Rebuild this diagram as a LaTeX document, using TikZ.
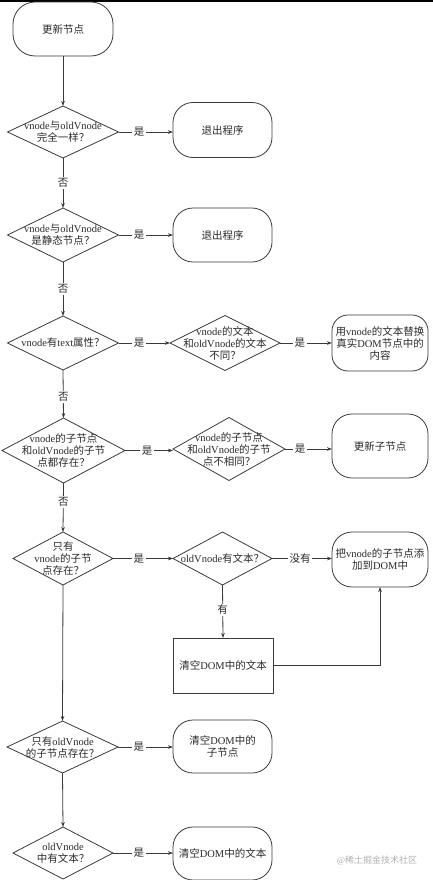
\documentclass[tikz,border=0pt]{standalone}
\usepackage{fontspec}
\setmainfont{Liberation Serif}
\newfontfamily\cjk{Noto Sans CJK SC}
\XeTeXinterchartokenstate=1
\newXeTeXintercharclass\cjkclass
\makeatletter
\count@="3000
\loop
  \XeTeXcharclass\count@=\cjkclass
  \advance\count@ by 1
\ifnum\count@<"3040 \repeat
\count@="4E00
\loop
  \XeTeXcharclass\count@=\cjkclass
  \advance\count@ by 1
\ifnum\count@<"A000 \repeat
\count@="FF00
\loop
  \XeTeXcharclass\count@=\cjkclass
  \advance\count@ by 1
\ifnum\count@<"FFF0 \repeat
\makeatother
\XeTeXinterchartoks 0 \cjkclass = {\cjk}
\XeTeXinterchartoks 4095 \cjkclass = {\cjk}
\XeTeXinterchartoks \cjkclass 0 = {\rmfamily}
\usetikzlibrary{arrows.meta}
\definecolor{ln}{HTML}{3A3A3A}
\definecolor{txt}{HTML}{2A2A2A}
\definecolor{wm}{HTML}{B0B0B0}
\tikzset{
  base/.style={font=\fontsize{10.5}{12}\selectfont, align=center, text=txt, inner sep=0pt, outer sep=0pt},
  dia/.style={base},
  term/.style={base, draw=ln, line width=0.8pt, rounded corners=#1},
  term/.default=20pt,
  boxnode/.style={base, draw=ln, line width=0.8pt},
  arr/.style={draw=ln, line width=0.8pt, -{Stealth[length=5pt,width=3.6pt]}},
  lbl/.style={base, fill=white, inner sep=1.5pt},
  wmark/.style={font=\fontsize{9}{11}\selectfont, text=wm, inner sep=0pt}
}
\begin{document}
\begin{tikzpicture}[x=1pt,y=-1pt]
\useasboundingbox (0,0) rectangle (433,880);
\fill[black] (0,0) rectangle (433,2.5);

% nodes
\node[term=22pt, minimum width=100pt, minimum height=54pt] (start) at (63,29) {更新节点};

\node[dia, minimum width=111pt, minimum height=52pt] (d1) at (63,132) {vnode与oldVnode\\完全一样？};
\node[term, minimum width=99pt, minimum height=55pt] (e1) at (222.5,130) {退出程序};

\node[dia, minimum width=111pt, minimum height=54pt] (d2) at (63,235) {vnode与oldVnode\\是静态节点？};
\node[term, minimum width=99pt, minimum height=54pt] (e2) at (222.5,235) {退出程序};

\node[dia, minimum width=111pt, minimum height=54pt] (d3) at (63,343) {vnode有text属性？};
\node[dia, minimum width=110pt, minimum height=55pt] (d3b) at (225,343) {vnode的文本\\和oldVnode的文本\\不同？};
\node[term=16pt, minimum width=96pt, minimum height=56pt] (b3c) at (380,343) {用vnode的文本替换\\真实DOM节点中的\\内容};

\node[dia, minimum width=123pt, minimum height=65pt] (d4) at (63.5,450.5) {vnode的子节点\\和oldVnode的子节\\点都存在？};
\node[dia, minimum width=112pt, minimum height=63pt] (d4b) at (229,449) {vnode的子节点\\和oldVnode的子节\\点不相同？};
\node[term, minimum width=96pt, minimum height=64pt] (b4c) at (380,446) {更新子节点};

\node[dia, minimum width=100pt, minimum height=53pt] (d5) at (63,558.5) {只有\\vnode的子节\\点存在？};
\node[dia, minimum width=99pt, minimum height=53pt] (d5b) at (222.5,558.5) {oldVnode有文本？};
\node[term, minimum width=96pt, minimum height=55pt] (b5c) at (380,559.5) {把vnode的子节点添\\加到DOM中};
\node[boxnode, minimum width=100pt, minimum height=55pt] (r5) at (223,665.5) {清空DOM中的文本};

\node[dia, minimum width=111pt, minimum height=52pt] (d6) at (62.5,747) {只有oldVnode\\的子节点存在？};
\node[term, minimum width=99pt, minimum height=53pt] (b6) at (222.5,746.5) {清空DOM中的\\子节点};

\node[dia, minimum width=100pt, minimum height=52pt] (d7) at (63,853) {oldVnode\\中有文本？};
\node[term, minimum width=99pt, minimum height=53pt] (b7) at (222.5,853.5) {清空DOM中的文本};

\node[wmark] (wm) at (377,861) {@稀土掘金技术社区};

% diamond outlines
\foreach \n in {d1,d2,d3,d3b,d4,d4b,d5,d5b,d6,d7}
  \draw[draw=ln, line width=0.8pt] (\n.west) -- (\n.north) -- (\n.east) -- (\n.south) -- cycle;

% vertical flow
\draw[arr] (start.south) -- (d1.north);
\draw[arr] (d1.south) -- node[lbl, pos=0.5] {否} (d2.north);
\draw[arr] (d2.south) -- node[lbl, pos=0.5] {否} (d3.north);
\draw[arr] (d3.south) -- node[lbl, pos=0.56] {否} (d4.north);
\draw[arr] (d4.south) -- node[lbl, pos=0.39] {否} (d5.north);
\draw[arr] (d5.south) -- (d6.north);
\draw[arr] (d6.south) -- (d7.north);

% horizontal branches
\draw[arr] (d1.east) -- node[lbl, pos=0.38] {是} (d1.east -| e1.west);
\draw[arr] (d2.east) -- node[lbl, pos=0.38] {是} (d2.east -| e2.west);
\draw[arr] (d3.east) -- node[lbl, pos=0.4] {是} (d3b.west);
\draw[arr] (d3b.east) -- node[lbl, pos=0.38] {是} (d3b.east -| b3c.west);
\draw[arr] (d4.east) -- node[lbl, pos=0.46] {是} (d4.east -| d4b.west);
\draw[arr] (d4b.east) -- node[lbl, pos=0.32] {是} (d4b.east -| b4c.west);
\draw[arr] (d5.east) -- node[lbl, pos=0.43] {是} (d5b.west);
\draw[arr] (d5b.east) -- node[lbl, pos=0.47] {没有} (d5b.east -| b5c.west);
\draw[arr] (d5b.south) -- node[lbl, pos=0.47] {有} (r5.north);
\draw[arr] (r5.east) -| (b5c.south);
\draw[arr] (d6.east) -- node[lbl, pos=0.38] {是} (d6.east -| b6.west);
\draw[arr] (d7.east) -- node[lbl, pos=0.43] {是} (d7.east -| b7.west);
\end{tikzpicture}
\end{document}
